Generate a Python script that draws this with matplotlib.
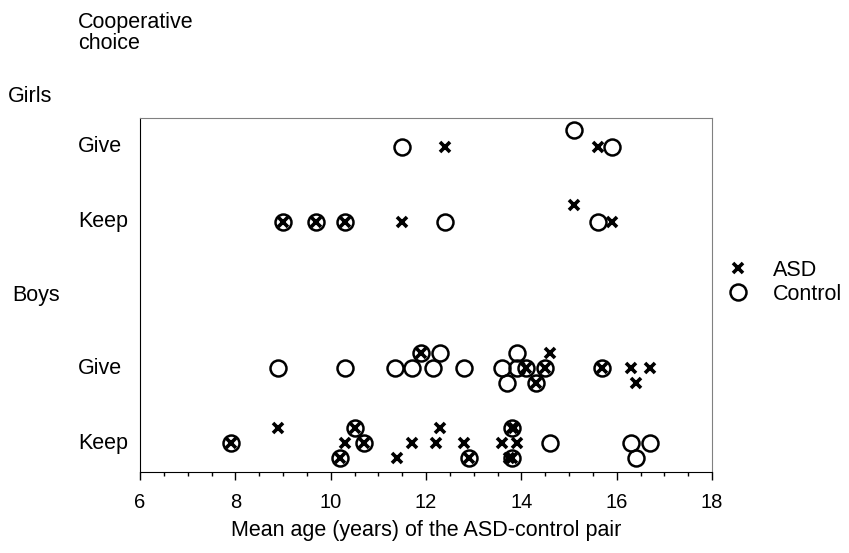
import matplotlib.pyplot as plt
from matplotlib.ticker import MultipleLocator
from matplotlib.transforms import blended_transform_factory

plt.rcParams['font.family'] = ['Liberation Sans', 'DejaVu Sans']

# mean age of each ASD-control pair, with a vertical jitter level (-1, 0, +1)
girls_give_asd = [12.4, 15.6]
girls_give_asd_lvl = [0, 0]
girls_give_ctl = [11.5, 15.1, 15.9]
girls_give_ctl_lvl = [0, 1, 0]

girls_keep_asd = [9.0, 9.7, 10.3, 11.5, 15.1, 15.9]
girls_keep_asd_lvl = [0, 0, 0, 0, 1, 0]
girls_keep_ctl = [9.0, 9.7, 10.3, 12.4, 15.6]
girls_keep_ctl_lvl = [0, 0, 0, 0, 0]

boys_give_asd = [11.9, 14.1, 14.5, 14.3, 14.6, 15.7, 16.3, 16.7, 16.4]
boys_give_asd_lvl = [1, 0, 0, -1, 1, 0, 0, 0, -1]
boys_give_ctl = [8.9, 10.3, 11.35, 11.7, 11.9, 12.3, 12.15, 12.8, 13.6,
                 13.9, 13.9, 14.1, 14.5, 13.7, 14.3, 15.7]
boys_give_ctl_lvl = [0, 0, 0, 0, 1, 1, 0, 0, 0, 1, 0, 0, 0, -1, -1, 0]

boys_keep_asd = [7.9, 8.9, 10.3, 10.5, 10.7, 10.2, 11.4, 11.7, 12.2, 12.3,
                 12.8, 12.9, 13.6, 13.9, 13.8, 13.85, 13.8, 13.75]
boys_keep_asd_lvl = [0, 1, 0, 1, 0, -1, -1, 0, 0, 1, 0, -1, 0, 0, 1, 1, -1, -1]
boys_keep_ctl = [7.9, 10.5, 10.7, 10.2, 12.9, 13.8, 13.8, 14.6, 16.3, 16.7, 16.4]
boys_keep_ctl_lvl = [0, 1, 0, -1, -1, 1, -1, 0, 0, 0, -1]

row_names = ['Give', 'Keep', 'Give', 'Keep']
row_y = [21.7, 16.7, 6.93, 1.93]
row_step = [1.1, 1.1, 1.0, 1.0]
rows = [
    (girls_give_asd, girls_give_asd_lvl, girls_give_ctl, girls_give_ctl_lvl),
    (girls_keep_asd, girls_keep_asd_lvl, girls_keep_ctl, girls_keep_ctl_lvl),
    (boys_give_asd, boys_give_asd_lvl, boys_give_ctl, boys_give_ctl_lvl),
    (boys_keep_asd, boys_keep_asd_lvl, boys_keep_ctl, boys_keep_ctl_lvl),
]

FS = 15.5

fig = plt.figure(figsize=(8.49, 5.53), dpi=100)
ax = fig.add_axes([140 / 849, 1 - 472 / 553, 572 / 849, 354 / 553])

asd_style = dict(ls='none', marker='x', ms=7.5, mew=2.6, color='black')
ctl_style = dict(ls='none', marker='o', ms=11.5, mew=1.8, mfc='none', mec='black')

for (asd, asd_lvl, ctl, ctl_lvl), y0, step in zip(rows, row_y, row_step):
    ax.plot(ctl, [y0 + l * step for l in ctl_lvl], **ctl_style)
    ax.plot(asd, [y0 + l * step for l in asd_lvl], **asd_style)

ax.set_xlim(6, 18)
ax.set_ylim(0, 23.6)
ax.xaxis.set_major_locator(MultipleLocator(2))
ax.xaxis.set_minor_locator(MultipleLocator(0.5))
ax.tick_params(axis='x', which='major', length=6, width=1, labelsize=14.5, pad=9)
ax.tick_params(axis='x', which='minor', length=3, width=1)
ax.set_yticks([])
ax.spines['top'].set_color('#808080')
ax.spines['right'].set_color('#808080')
ax.set_xlabel('Mean age (years) of the ASD-control pair', fontsize=FS, labelpad=6)

# row labels, placed in figure x / data y
label_tr = blended_transform_factory(fig.transFigure, ax.transData)
for name, y in zip(row_names, row_y):
    ax.text(78 / 849, y, name, transform=label_tr, fontsize=FS,
            ha='left', va='center')

fig.text(78 / 849, 1 - 33 / 553, 'Cooperative\nchoice', fontsize=FS,
         ha='left', va='center', linespacing=1.0)
fig.text(8 / 849, 1 - 96 / 553, 'Girls', fontsize=FS, ha='left', va='center')
fig.text(12 / 849, 1 - 295 / 553, 'Boys', fontsize=FS, ha='left', va='center')

h_asd, = ax.plot([], [], **asd_style)
h_ctl, = ax.plot([], [], **ctl_style)
fig.legend([h_asd, h_ctl], ['ASD', 'Control'], loc='upper left',
           bbox_to_anchor=(714 / 849, 1 - 249 / 553), frameon=False,
           fontsize=FS, handlelength=1.2, handletextpad=1.05, labelspacing=0.15,
           borderpad=0)

fig.savefig('out.png', dpi=100)
